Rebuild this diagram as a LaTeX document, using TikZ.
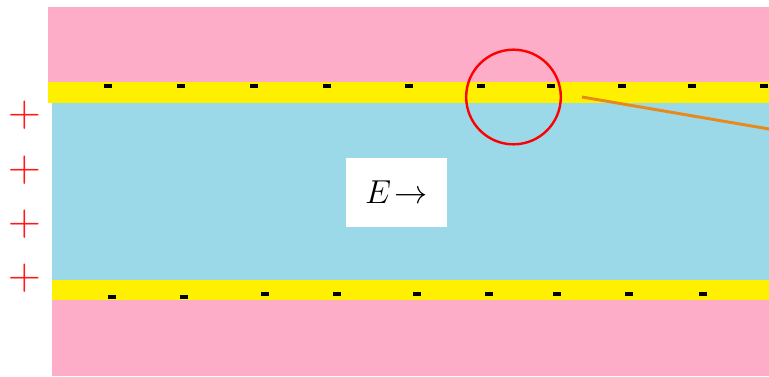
\documentclass[tikz,border=0pt]{standalone}
\usepackage{tikz}
\usetikzlibrary{positioning}
\usepackage{xcolor}
\definecolor{layerpink}{HTML}{FDADC8}
\definecolor{layeryellow}{HTML}{FFF000}
\definecolor{channelblue}{HTML}{9BD9E9}
\definecolor{chargered}{HTML}{FF1A1A}
\definecolor{lineorange}{HTML}{E8891A}

\begin{document}
\begin{tikzpicture}[
  x=0.75pt, y=-0.75pt,
  minus/.style={fill=black, inner sep=0pt, minimum width=6.5pt, minimum height=3pt},
  plus/.style={text=chargered, font=\fontsize{34}{34}\selectfont, inner sep=0pt},
  fieldbox/.style={fill=white, minimum width=75.75pt, minimum height=51.75pt, font=\fontsize{27}{27}\selectfont}
]
\useasboundingbox (0,0) rectangle (769,377);

% Layers
\fill[layerpink] (48,7) rectangle (769,82);
\fill[layeryellow] (48,82) rectangle (769,103);
\fill[channelblue] (52,103) rectangle (769,280);
\fill[layeryellow] (52,280) rectangle (769,300);
\fill[layerpink] (52,300) rectangle (769,376);

% Negative charges
\foreach \xpos [count=\i] in {108,181,254,327,409,481,551,622,692,764}
  \node[minus] (topminus\i) at (\xpos,86) {};
\foreach \xpos/\ypos [count=\i] in {112/297,184/297,265/294,337/294,417/294,489/294,557/294,629/294,703/294}
  \node[minus] (botminus\i) at (\xpos,\ypos) {};

% Positive charges
\foreach \ypos [count=\i] in {115,170,224,278}
  \node[plus] (plus\i) at (25,\ypos) {+};

% Field label
\node[fieldbox] (field) at (396.5,192.5) {$E\!\rightarrow$};

% Highlight and pointer
\node[draw=red, line width=1.8pt, circle, minimum size=71pt, inner sep=0pt] (spot) at (513.5,97) {};
\coordinate (pointerend) at (769,129);
\coordinate (pointerstart) at (582,97);
\draw[lineorange, line width=2.2pt] (pointerstart) -- (pointerend);
\end{tikzpicture}
\end{document}
